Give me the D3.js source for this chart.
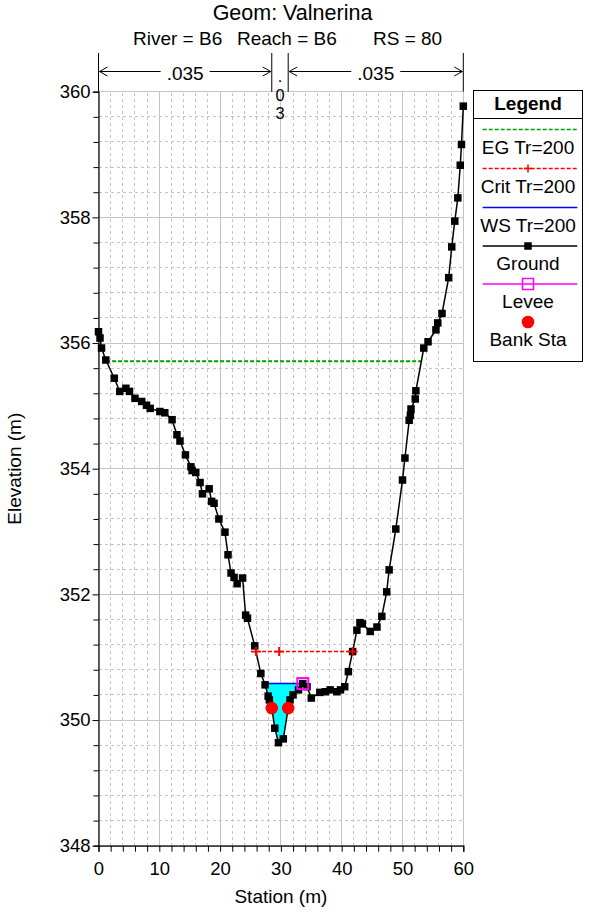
<!DOCTYPE html>
<html>
<head>
<meta charset="utf-8">
<script src="https://cdn.jsdelivr.net/npm/d3@7"></script>
<style>
  html, body { margin: 0; padding: 0; background: #fff; }
  svg { display: block; font-family: "Liberation Sans", Arial, sans-serif; }
</style>
</head>
<body>
<svg id="chart" width="589" height="914"></svg>
<script>
// Cross section geometry: station (m) and elevation (m)
const groundSta = [0.0, 0.25, 0.5, 1.2, 2.6, 3.5, 4.5, 5.1, 6.0, 7.1, 7.9, 8.5, 10.1, 10.9, 12.1, 12.9, 13.4, 14.3, 15.2, 15.4,
  16.0, 16.7, 17.1, 18.2, 18.6, 19.0, 19.8, 20.8, 21.3, 21.8, 22.3, 22.8, 23.7, 24.2, 24.5, 25.7, 26.7, 27.4, 27.9, 28.1,
  28.5, 29.0, 29.6, 30.4, 31.2, 31.5, 32.0, 32.9, 33.6, 34.3, 35.0, 36.4, 37.3, 38.1, 39.2, 39.8, 40.5, 41.1, 41.8, 42.5,
  43.0, 43.4, 44.7, 45.8, 46.6, 47.4, 47.8, 48.9, 50.0, 50.4, 51.1, 51.3, 51.4, 52.1, 52.2, 53.5, 54.2, 55.5, 55.8, 56.5,
  57.6, 58.1, 58.6, 59.1, 59.5, 59.7, 60.0];
const groundElev = [356.18, 356.08, 355.92, 355.73, 355.44, 355.23, 355.28, 355.23, 355.12, 355.07, 355.01, 354.96, 354.91, 354.89, 354.78, 354.54, 354.44, 354.22, 354.03, 353.97,
  353.94, 353.78, 353.60, 353.68, 353.48, 353.45, 353.20, 352.99, 352.63, 352.34, 352.27, 352.17, 352.26, 351.67, 351.62, 351.18, 350.74, 350.56, 350.38, 350.32,
  350.19, 349.87, 349.64, 349.70, 350.19, 350.32, 350.40, 350.48, 350.58, 350.53, 350.35, 350.44, 350.45, 350.48, 350.45, 350.48, 350.53, 350.77, 351.09, 351.43,
  351.55, 351.53, 351.41, 351.48, 351.65, 352.04, 352.39, 353.04, 353.82, 354.17, 354.77, 354.85, 354.95, 355.11, 355.24, 355.92, 356.02, 356.21, 356.32, 356.47,
  357.04, 357.53, 357.94, 358.31, 358.83, 359.16, 359.77];

// Water surface profiles for Tr=200
const egElev = 355.71;
const egSta = [1.25, 53.1];
const critElev = 351.09;
const critSta = [25.9, 41.8];
const critMarkSta = [25.9, 29.7, 41.8];
const wsElev = 350.58;
const wsSta = [27.3, 33.6];

// Levee and bank stations
const leveeSta = [33.6];
const leveeElev = [350.58];
const bankSta = [28.5, 31.2];
const bankElev = [350.19, 350.19];

// Manning's n zones
const nBreaks = [0, 28.5, 31.2, 60];
const nValues = [".035", ".03", ".035"];

// Axis ticks
const xTickLabels = [0, 10, 20, 30, 40, 50, 60];
const yTickLabels = [348, 350, 352, 354, 356, 358, 360];

const legendItems = ["EG Tr=200", "Crit Tr=200", "WS Tr=200", "Ground", "Levee", "Bank Sta"];

const svg = d3.select("#chart");
const x = d3.scaleLinear().domain([0, 60]).range([98.5, 463.3]);
const y = d3.scaleLinear().domain([348, 360]).range([845.7, 91.7]);
const FS = 19;      // general text
const TFS = 18.5;   // tick labels
const EG_GREEN = "#00a000";

// Grid
const grid = svg.append("g").attr("shape-rendering", "crispEdges");
d3.range(0, 60.001, 2).forEach(v => {
  const major = Math.abs(v % 10) < 1e-6;
  grid.append("line").attr("x1", x(v)).attr("x2", x(v)).attr("y1", y(348)).attr("y2", y(360))
    .attr("stroke", "#c4c4c4").attr("stroke-width", 1)
    .attr("stroke-dasharray", major ? null : "3,3");
});
d3.range(348, 360.001, 0.4).forEach(v => {
  const major = Math.abs((v - 348) / 2 - Math.round((v - 348) / 2)) < 1e-6;
  grid.append("line").attr("x1", x(0)).attr("x2", x(60)).attr("y1", y(v)).attr("y2", y(v))
    .attr("stroke", "#c4c4c4").attr("stroke-width", 1)
    .attr("stroke-dasharray", major ? null : "3,3");
});

// Axes
const xAxis = d3.axisBottom(x).tickValues(d3.range(0, 60.001, 2)).tickSize(6)
  .tickFormat(d => xTickLabels.includes(Math.round(d)) ? Math.round(d) : "");
const gx = svg.append("g").attr("transform", `translate(0,${y(348)})`).call(xAxis);
gx.select(".domain").attr("stroke", "#000").attr("stroke-width", 1.2);
gx.selectAll("text").attr("font-size", TFS).attr("fill", "#000").attr("dy", "1.1em");

const yAxis = d3.axisLeft(y).tickValues(d3.range(348, 360.001, 0.4)).tickSize(5)
  .tickFormat(d => { const r = Math.round(d * 10) / 10; return yTickLabels.includes(r) ? r : ""; });
const gy = svg.append("g").attr("transform", `translate(${x(0)},0)`).call(yAxis);
gy.select(".domain").attr("stroke", "#000").attr("stroke-width", 1.2);
gy.selectAll("text").attr("font-size", TFS).attr("fill", "#000").attr("x", -8);
gy.selectAll(".tick line").attr("x2", d => yTickLabels.includes(Math.round(d * 10) / 10) ? -6 : -5);

// Axis titles
svg.append("text").attr("x", x(30)).attr("y", 903).attr("text-anchor", "middle")
  .attr("font-size", FS).text("Station (m)");
svg.append("text").attr("transform", `translate(21,${y(354)}) rotate(-90)`)
  .attr("text-anchor", "middle").attr("font-size", FS).text("Elevation (m)");

// Title
svg.append("text").attr("x", 292.5).attr("y", 19.5).attr("text-anchor", "middle")
  .attr("font-size", 21.5).text("Geom: Valnerina");
svg.append("text").attr("x", 133).attr("y", 45).attr("font-size", FS).text("River = B6");
svg.append("text").attr("x", 237).attr("y", 45).attr("font-size", FS).text("Reach = B6");
svg.append("text").attr("x", 373).attr("y", 45).attr("font-size", FS).text("RS = 80");

// Manning's n zones
const nz = svg.append("g");
const arrowY = 71.5;
nBreaks.forEach(s => {
  nz.append("line").attr("x1", x(s)).attr("x2", x(s)).attr("y1", 53).attr("y2", y(360))
    .attr("stroke", "#000").attr("stroke-width", 1);
});
nValues.forEach((label, i) => {
  const a = x(nBreaks[i]), b = x(nBreaks[i + 1]);
  const mid = (a + b) / 2;
  if (b - a > 60) {
    const t = nz.append("text").attr("x", mid).attr("y", 79.5).attr("text-anchor", "middle")
      .attr("font-size", FS).text(label);
    const w = t.node().getComputedTextLength();
    const gap = 6;
    nz.append("line").attr("x1", a + 1).attr("x2", mid - w / 2 - gap).attr("y1", arrowY).attr("y2", arrowY)
      .attr("stroke", "#000").attr("stroke-width", 1);
    nz.append("line").attr("x1", mid + w / 2 + gap).attr("x2", b - 1).attr("y1", arrowY).attr("y2", arrowY)
      .attr("stroke", "#000").attr("stroke-width", 1);
    nz.append("path").attr("d", `M${a + 9},${arrowY - 4.5}L${a + 1},${arrowY}L${a + 9},${arrowY + 4.5}`)
      .attr("fill", "none").attr("stroke", "#000").attr("stroke-width", 1);
    nz.append("path").attr("d", `M${b - 9},${arrowY - 4.5}L${b - 1},${arrowY}L${b - 9},${arrowY + 4.5}`)
      .attr("fill", "none").attr("stroke", "#000").attr("stroke-width", 1);
  } else {
    // narrow zone: value written vertically, one character per line
    const t = nz.append("text").attr("text-anchor", "middle").attr("font-size", 16.4);
    label.split("").forEach((ch, k) => {
      t.append("tspan").attr("x", mid).attr("y", 82 + k * 18.5).text(ch);
    });
  }
});

// Ground data as points
const ground = groundSta.map((s, i) => [s, groundElev[i]]);

// Water fill below WS between ground crossings
const wet = [[wsSta[0], wsElev]]
  .concat(ground.filter(p => p[0] > wsSta[0] && p[0] < wsSta[1]))
  .concat([[wsSta[1], wsElev]]);
svg.append("path").datum(wet)
  .attr("d", d3.line().x(d => x(d[0])).y(d => y(d[1])))
  .attr("fill", "#00ffff").attr("stroke", "none");

// EG line
svg.append("line").attr("x1", x(egSta[0])).attr("x2", x(egSta[1]))
  .attr("y1", y(egElev)).attr("y2", y(egElev))
  .attr("stroke", EG_GREEN).attr("stroke-width", 2).attr("stroke-dasharray", "4,2");

// Critical depth line
svg.append("line").attr("x1", x(critSta[0])).attr("x2", x(critSta[1]))
  .attr("y1", y(critElev)).attr("y2", y(critElev))
  .attr("stroke", "#ff0000").attr("stroke-width", 1.6).attr("stroke-dasharray", "4,2");

// WS line
svg.append("line").attr("x1", x(wsSta[0])).attr("x2", x(wsSta[1]))
  .attr("y1", y(wsElev)).attr("y2", y(wsElev))
  .attr("stroke", "#0000ff").attr("stroke-width", 1.5);

// Ground line and markers
svg.append("path").datum(ground)
  .attr("d", d3.line().x(d => x(d[0])).y(d => y(d[1])))
  .attr("fill", "none").attr("stroke", "#000").attr("stroke-width", 1.5);
const sq = 7.5;
svg.append("g").selectAll("rect").data(ground).join("rect")
  .attr("x", d => x(d[0]) - sq / 2).attr("y", d => y(d[1]) - sq / 2)
  .attr("width", sq).attr("height", sq).attr("fill", "#000");

// Critical markers
svg.append("g").selectAll("path").data(critMarkSta).join("path")
  .attr("d", d => `M${x(d) - 5},${y(critElev)}H${x(d) + 5}M${x(d)},${y(critElev) - 4.5}V${y(critElev) + 4.5}`)
  .attr("stroke", "#ff0000").attr("stroke-width", 1.8);

// Levee
svg.append("g").selectAll("rect").data(leveeSta).join("rect")
  .attr("x", (d, i) => x(d) - 5.5).attr("y", (d, i) => y(leveeElev[i]) - 5.5)
  .attr("width", 11).attr("height", 11).attr("fill", "none")
  .attr("stroke", "#ff00ff").attr("stroke-width", 2);

// Bank stations
svg.append("g").selectAll("circle").data(bankSta).join("circle")
  .attr("cx", d => x(d)).attr("cy", (d, i) => y(bankElev[i])).attr("r", 6.3)
  .attr("fill", "#ff0000");

// Legend
const lg = svg.append("g");
const L = { x0: 473.5, x1: 582.5, y0: 90.5, y1: 361.5 };
lg.append("rect").attr("x", L.x0).attr("y", L.y0).attr("width", L.x1 - L.x0).attr("height", L.y1 - L.y0)
  .attr("fill", "#fff").attr("stroke", "#000").attr("stroke-width", 1);
lg.append("line").attr("x1", L.x0).attr("x2", L.x1).attr("y1", 118.5).attr("y2", 118.5)
  .attr("stroke", "#000").attr("stroke-width", 1);
const lcx = (L.x0 + L.x1) / 2;
lg.append("text").attr("x", lcx).attr("y", 110).attr("text-anchor", "middle")
  .attr("font-size", FS).attr("font-weight", "bold").text("Legend");
const symY = [129.5, 168.5, 207.5, 246, 284, 322];
const lx0 = 482.7, lx1 = 577.3;
legendItems.forEach((name, i) => {
  const sy = symY[i];
  if (i === 0) lg.append("line").attr("x1", lx0).attr("x2", lx1).attr("y1", sy).attr("y2", sy)
    .attr("stroke", EG_GREEN).attr("stroke-width", 1.6).attr("stroke-dasharray", "4,2");
  if (i === 1) {
    lg.append("line").attr("x1", lx0).attr("x2", lx1).attr("y1", sy).attr("y2", sy)
      .attr("stroke", "#ff0000").attr("stroke-width", 1.4).attr("stroke-dasharray", "4,2");
    lg.append("path").attr("d", `M${lcx - 4},${sy}H${lcx + 4}M${lcx},${sy - 4}V${sy + 4}`)
      .attr("stroke", "#ff0000").attr("stroke-width", 1.5);
  }
  if (i === 2) lg.append("line").attr("x1", lx0).attr("x2", lx1).attr("y1", sy).attr("y2", sy)
    .attr("stroke", "#0000ff").attr("stroke-width", 1.5);
  if (i === 3) {
    lg.append("line").attr("x1", lx0).attr("x2", lx1).attr("y1", sy).attr("y2", sy)
      .attr("stroke", "#000").attr("stroke-width", 1.5);
    lg.append("rect").attr("x", lcx - sq / 2).attr("y", sy - sq / 2).attr("width", sq).attr("height", sq).attr("fill", "#000");
  }
  if (i === 4) {
    lg.append("line").attr("x1", lx0).attr("x2", lx1).attr("y1", sy).attr("y2", sy)
      .attr("stroke", "#ff00ff").attr("stroke-width", 1.5);
    lg.append("rect").attr("x", lcx - 5.5).attr("y", sy - 5.5).attr("width", 11).attr("height", 11)
      .attr("fill", "none").attr("stroke", "#ff00ff").attr("stroke-width", 1.5);
  }
  if (i === 5) lg.append("circle").attr("cx", lcx).attr("cy", sy).attr("r", 6.3).attr("fill", "#ff0000");
  lg.append("text").attr("x", lcx).attr("y", sy + 24).attr("text-anchor", "middle")
    .attr("font-size", FS).text(name);
});
</script>
</body>
</html>
